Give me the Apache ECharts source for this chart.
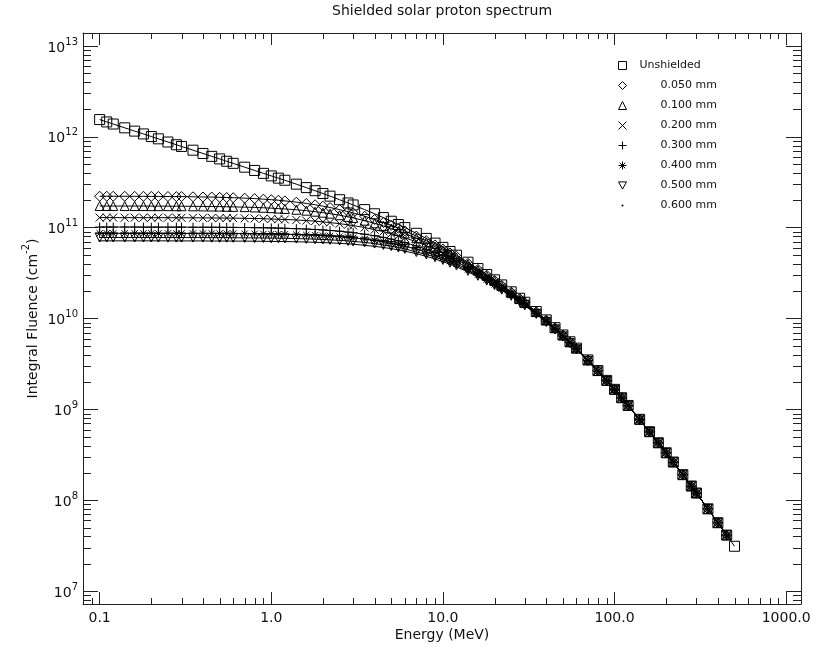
<!DOCTYPE html>
<html lang="en">
<head>
    <meta charset="UTF-8">
    <title>Shielded solar proton spectrum</title>
    <style>
        html, body { margin: 0; padding: 0; background: #fff; }
    </style>
</head>
<body>
<div class="main" style="width: 817px;height:647px;"></div>
<script src="https://cdn.jsdelivr.net/npm/echarts@6.0.0/dist/echarts.min.js"></script>
<script>
    // energies (MeV)
    var energy = [0.1,0.11,0.12,0.14,0.16,0.18,0.2,0.22,0.25,0.28,
        0.3,0.35,0.4,0.45,0.5,0.55,0.6,0.7,0.8,0.9,
        1,1.1,1.2,1.4,1.6,1.8,2,2.2,2.5,2.8,
        3,3.5,4,4.5,5,5.5,6,7,8,9,
        10,11,12,14,16,18,20,22,25,28,
        30,35,40,45,50,55,60,70,80,90,
        100,110,120,140,160,180,200,220,250,280,
        300,350,400,450,500];

    // log10 of integral fluence (cm-2)
    var logUnshielded = [12.190,12.164,12.141,12.099,12.063,12.032,12.003,11.978,11.943,11.913,
        11.894,11.853,11.817,11.785,11.757,11.731,11.708,11.666,11.630,11.598,
        11.570,11.545,11.522,11.479,11.441,11.407,11.376,11.347,11.308,11.272,
        11.250,11.199,11.153,11.111,11.071,11.035,11.001,10.938,10.882,10.830,
        10.783,10.738,10.697,10.620,10.550,10.485,10.426,10.370,10.294,10.223,
        10.179,10.077,9.985,9.899,9.819,9.744,9.674,9.544,9.427,9.319,
        9.220,9.128,9.043,8.890,8.754,8.632,8.522,8.420,8.281,8.156,
        8.079,7.905,7.752,7.616,7.493];

    var log050 = [11.346,11.346,11.346,11.346,11.345,11.345,11.344,11.344,11.343,11.342,
        11.342,11.340,11.338,11.337,11.334,11.332,11.330,11.325,11.320,11.314,
        11.308,11.302,11.295,11.281,11.267,11.252,11.237,11.222,11.199,11.177,
        11.162,11.126,11.090,11.057,11.025,10.994,10.964,10.908,10.857,10.809,
        10.765,10.722,10.684,10.608,10.540,10.477,10.419,10.364,10.290,10.219,
        10.176,10.074,9.983,9.898,9.818,9.743,9.673,9.543,9.426,9.318,
        9.219,9.127,9.042,8.889,8.753,8.631,8.521,8.419,8.280,8.155,
        8.078,7.904,7.751,7.615];

    var log100 = [11.239,11.238,11.238,11.238,11.238,11.238,11.237,11.237,11.237,11.236,
        11.236,11.235,11.234,11.233,11.232,11.230,11.229,11.226,11.223,11.219,
        11.215,11.210,11.206,11.197,11.187,11.176,11.165,11.154,11.137,11.119,
        11.107,11.077,11.048,11.019,10.991,10.963,10.936,10.885,10.838,10.792,
        10.750,10.709,10.671,10.598,10.532,10.470,10.413,10.359,10.284,10.215,
        10.172,10.071,9.980,9.895,9.815,9.741,9.672,9.542,9.425,9.318,
        9.219,9.127,9.042,8.889,8.753,8.631,8.521,8.419,8.280,8.155,
        8.078,7.904,7.751,7.615];

    var log200 = [11.111,11.111,11.111,11.110,11.110,11.110,11.110,11.110,11.110,11.109,
        11.109,11.109,11.108,11.107,11.106,11.106,11.105,11.103,11.101,11.099,
        11.095,11.093,11.090,11.085,11.078,11.072,11.064,11.056,11.044,11.032,
        11.023,11.002,10.978,10.957,10.933,10.911,10.888,10.845,10.802,10.762,
        10.723,10.685,10.649,10.581,10.517,10.458,10.402,10.350,10.276,10.208,
        10.166,10.066,9.976,9.891,9.813,9.739,9.669,9.540,9.424,9.317,
        9.218,9.126,9.041,8.888,8.752,8.630,8.521,8.419,8.280,8.155,
        8.078,7.904,7.751,7.615];

    var log300 = [11.007,11.007,11.007,11.007,11.007,11.006,11.006,11.006,11.006,11.006,
        11.006,11.005,11.005,11.005,11.004,11.003,11.003,11.002,11.000,10.999,
        10.997,10.995,10.993,10.989,10.985,10.980,10.975,10.969,10.961,10.951,
        10.945,10.928,10.911,10.893,10.874,10.855,10.837,10.799,10.762,10.727,
        10.691,10.657,10.624,10.559,10.499,10.442,10.388,10.337,10.266,10.199,
        10.159,10.060,9.970,9.886,9.808,9.735,9.666,9.538,9.422,9.315,
        9.216,9.125,9.040,8.888,8.752,8.630,8.520,8.418,8.279,8.154,
        8.077,7.904,7.751,7.615];

    var log400 = [10.938,10.938,10.938,10.938,10.938,10.937,10.937,10.937,10.937,10.937,
        10.937,10.937,10.936,10.936,10.936,10.935,10.935,10.934,10.933,10.931,
        10.930,10.929,10.927,10.924,10.920,10.917,10.912,10.908,10.901,10.894,
        10.888,10.875,10.859,10.845,10.828,10.813,10.796,10.764,10.730,10.698,
        10.664,10.633,10.601,10.541,10.482,10.428,10.376,10.327,10.257,10.192,
        10.151,10.055,9.966,9.883,9.805,9.732,9.663,9.535,9.420,9.313,
        9.215,9.124,9.039,8.887,8.752,8.630,8.520,8.418,8.279,8.154,
        8.077,7.904,7.751,7.615];

    var log500 = [10.892,10.892,10.892,10.892,10.892,10.892,10.892,10.891,10.891,10.891,
        10.891,10.891,10.891,10.890,10.890,10.890,10.889,10.888,10.887,10.887,
        10.885,10.884,10.883,10.880,10.877,10.874,10.870,10.866,10.861,10.854,
        10.849,10.838,10.825,10.810,10.797,10.782,10.767,10.732,10.706,10.675,
        10.645,10.614,10.584,10.525,10.470,10.417,10.367,10.318,10.250,10.185,
        10.146,10.050,9.962,9.879,9.802,9.729,9.661,9.534,9.418,9.312,
        9.214,9.123,9.038,8.887,8.751,8.630,8.520,8.418,8.279,8.154,
        8.077,7.904,7.751,7.615];

    var log600 = [10.855,10.855,10.855,10.855,10.855,10.855,10.855,10.855,10.855,10.854,
        10.854,10.854,10.854,10.853,10.853,10.853,10.852,10.852,10.851,10.850,
        10.849,10.848,10.847,10.845,10.842,10.839,10.836,10.833,10.827,10.822,
        10.818,10.806,10.794,10.782,10.769,10.756,10.741,10.714,10.684,10.656,
        10.626,10.598,10.568,10.513,10.459,10.407,10.358,10.310,10.243,10.179,
        10.141,10.046,9.958,9.876,9.799,9.727,9.659,9.532,9.417,9.310,
        9.213,9.122,9.037,8.886,8.751,8.629,8.520,8.418,8.279,8.154,
        8.077,7.904,7.751,7.615];

    var seriesNames = ['Unshielded', '0.050 mm', '0.100 mm', '0.200 mm', '0.300 mm', '0.400 mm', '0.500 mm', '0.600 mm'];
    var seriesLogs = [logUnshielded, log050, log100, log200, log300, log400, log500, log600];

    // IDL style plot symbols
    var symbols = ['rect', 'diamond', 'triangle',
        'path://M0 0L10 10M10 0L0 10',
        'path://M5 0L5 10M0 5L10 5',
        'path://M5 0L5 10M0 5L10 5M1.5 1.5L8.5 8.5M8.5 1.5L1.5 8.5',
        'path://M0 0L10 0L5 9Z',
        'circle'];
    var symbolSizes = [10, 10, 9, 8, 9, 9, 9, 2];
    var legendIcons = symbols.slice(0, 7).concat(['path://M0 0M8 8M3.5 3.5L4.5 3.5L4.5 4.5L3.5 4.5Z']);

    // minor ticks
    var minorMult = [2, 3, 4, 5, 6, 7, 8, 9];
    var xDecades = [0.1, 1, 10, 100];
    var yDecades = [1e7, 1e8, 1e9, 1e10, 1e11, 1e12];
    var xMinorTicks = [0.09];
    xDecades.forEach(function (d) {
        minorMult.forEach(function (m) { xMinorTicks.push(d * m); });
    });
    var yMinorTicks = [8e6, 9e6];
    yDecades.forEach(function (d) {
        minorMult.forEach(function (m) { yMinorTicks.push(d * m); });
    });

    var FONT = 'DejaVu Sans';
    var INK = '#111';
    var AXIS = '#222';

    var main = document.getElementsByClassName('main')[0];
    var myChart = echarts.init(main);

    function isDecade(v) {
        var l = Math.log10(v);
        return Math.abs(l - Math.round(l)) < 1e-6;
    }

    var series = seriesNames.map(function (name, k) {
        var logs = seriesLogs[k];
        return {
            name: name,
            type: 'line',
            data: logs.map(function (lv, i) { return [energy[i], Math.pow(10, lv)]; }),
            symbol: symbols[k],
            symbolSize: symbolSizes[k],
            showSymbol: true,
            lineStyle: { color: '#000', width: 1 },
            itemStyle: k === 7 ? { color: '#000' } : { color: 'rgba(0,0,0,0)', borderColor: '#000', borderWidth: 1 },
            emphasis: { disabled: true },
            silent: true
        };
    });

    // minor ticks on bottom and top
    series.push({
        type: 'custom',
        silent: true,
        z: 5,
        data: xMinorTicks.map(function (v) { return [v, 1e10]; }),
        renderItem: function (params, api) {
            var x = Math.round(api.coord([api.value(0), 1e10])[0]) + 0.5;
            var cs = params.coordSys;
            return {
                type: 'group',
                children: [
                    { type: 'line', shape: { x1: x, y1: cs.y + cs.height, x2: x, y2: cs.y + cs.height - 6 }, style: { stroke: AXIS, lineWidth: 1 } },
                    { type: 'line', shape: { x1: x, y1: cs.y, x2: x, y2: cs.y + 6 }, style: { stroke: AXIS, lineWidth: 1 } }
                ]
            };
        }
    });
    // minor ticks on left and right
    series.push({
        type: 'custom',
        silent: true,
        z: 5,
        data: yMinorTicks.map(function (v) { return [1, v]; }),
        renderItem: function (params, api) {
            var y = Math.round(api.coord([1, api.value(1)])[1]) + 0.5;
            var cs = params.coordSys;
            return {
                type: 'group',
                children: [
                    { type: 'line', shape: { x1: cs.x, y1: y, x2: cs.x + 8, y2: y }, style: { stroke: AXIS, lineWidth: 1 } },
                    { type: 'line', shape: { x1: cs.x + cs.width, y1: y, x2: cs.x + cs.width - 8, y2: y }, style: { stroke: AXIS, lineWidth: 1 } }
                ]
            };
        }
    });

    var option = {
        animation: false,
        backgroundColor: '#fff',
        title: {
            text: 'Shielded solar proton spectrum',
            left: 332,
            top: 4,
            padding: 0,
            textStyle: { fontFamily: FONT, fontSize: 14, fontWeight: 'normal', color: INK }
        },
        legend: {
            orient: 'vertical',
            left: 618,
            top: 60,
            padding: 0,
            itemWidth: 8,
            itemHeight: 8,
            itemGap: 9,
            data: seriesNames.map(function (n, k) { return { name: n, icon: legendIcons[k] }; }),
            itemStyle: { color: 'rgba(0,0,0,0)', borderColor: '#000', borderWidth: 1 },
            formatter: function (name) {
                return name === 'Unshielded' ? '{a|' + name + '}' : '{b|' + name + '}';
            },
            textStyle: {
                fontFamily: FONT, fontSize: 11, color: INK,
                rich: {
                    a: { fontFamily: FONT, fontSize: 11, color: INK, padding: [0, 0, 0, 8] },
                    b: { fontFamily: FONT, fontSize: 11, color: INK, padding: [0, 0, 0, 29] }
                }
            }
        },
        grid: { left: 83, right: 16, top: 33, bottom: 42 },
        xAxis: [{
            type: 'log',
            logBase: 10,
            min: 0.08,
            max: 1220,
            name: 'Energy (MeV)',
            nameLocation: 'middle',
            nameGap: 24,
            nameMoveOverlap: false,
            nameTextStyle: { fontFamily: FONT, fontSize: 14, color: INK },
            axisLine: { show: true, lineStyle: { color: AXIS, width: 1 } },
            axisTick: { show: true, inside: true, length: 12, lineStyle: { color: AXIS } },
            splitLine: { show: false },
            axisLabel: {
                margin: 7,
                fontFamily: FONT, fontSize: 14, color: INK,
                formatter: function (v) { return isDecade(v) ? v.toFixed(1) : ''; }
            }
        }, {
            type: 'log',
            logBase: 10,
            min: 0.08,
            max: 1220,
            position: 'top',
            axisLine: { show: true, lineStyle: { color: AXIS, width: 1 } },
            axisTick: { show: true, inside: true, length: 12, lineStyle: { color: AXIS } },
            axisLabel: { show: false },
            splitLine: { show: false }
        }],
        yAxis: [{
            type: 'log',
            logBase: 10,
            min: 7.2e6,
            max: 1.39e13,
            name: 'Integral Fluence (cm{s|-2})',
            nameLocation: 'middle',
            nameGap: 38,
            nameMoveOverlap: false,
            nameTextStyle: {
                fontFamily: FONT, fontSize: 14, color: INK, lineHeight: 24,
                rich: { s: { fontFamily: FONT, fontSize: 10, color: INK, verticalAlign: 'top', lineHeight: 10 } }
            },
            axisLine: { show: true, lineStyle: { color: AXIS, width: 1 } },
            axisTick: { show: true, inside: true, length: 15, lineStyle: { color: AXIS } },
            splitLine: { show: false },
            axisLabel: {
                margin: 5,
                formatter: function (v) {
                    if (!isDecade(v)) return '';
                    return '{b|10}{s|' + Math.round(Math.log10(v)) + '}';
                },
                rich: {
                    b: { fontFamily: FONT, fontSize: 14, color: INK, lineHeight: 18, verticalAlign: 'bottom' },
                    s: { fontFamily: FONT, fontSize: 10, color: INK, lineHeight: 10, verticalAlign: 'top' }
                }
            }
        }, {
            type: 'log',
            logBase: 10,
            min: 7.2e6,
            max: 1.39e13,
            position: 'right',
            axisLine: { show: true, lineStyle: { color: AXIS, width: 1 } },
            axisTick: { show: true, inside: true, length: 15, lineStyle: { color: AXIS } },
            axisLabel: { show: false },
            splitLine: { show: false }
        }],
        series: series
    };

    myChart.setOption(option);
</script>
</body>
</html>
